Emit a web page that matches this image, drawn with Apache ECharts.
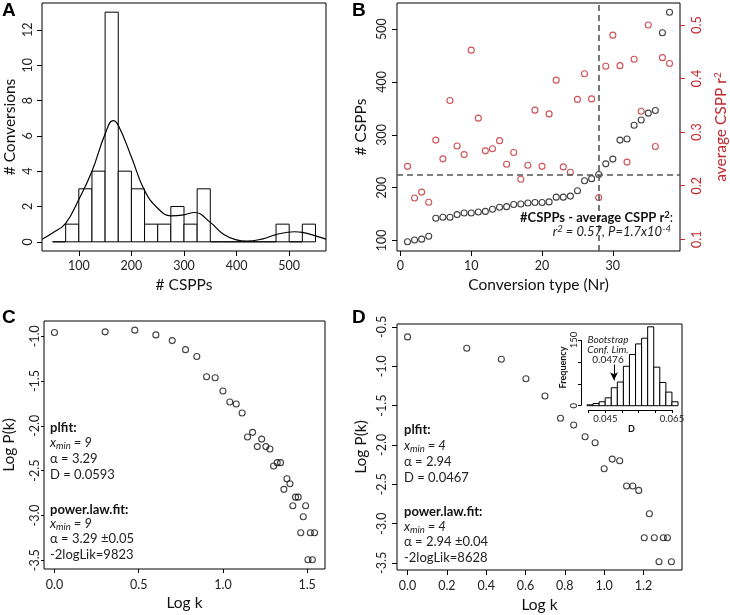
<!DOCTYPE html>
<html><head><meta charset="utf-8">
<script src="https://cdn.jsdelivr.net/npm/echarts@6/dist/echarts.min.js"></script>
<style>html,body{margin:0;padding:0;background:#fff}#c{width:730px;height:615px}</style>
</head><body><div id="c"></div>
<script>
const FONT = 'Lato, "Open Sans", sans-serif';
const RED = '#c1272d';

// ---------- Panel A: histogram of # CSPPs ----------
const histEdges = [50,75,100,125,150,175,200,225,250,275,300,325,350,375,400,425,450,475,500,525,550];
const histCounts = [0,1,3,4,13,4,3,1,1,2,1,3,0,0,0,0,0,1,0,1];
const densX = [30,50,75,100,125,150,165,175,200,225,250,275,300,320,350,375,400,419,450,475,510,525,550,570];
const densY = [0.15,0.5,1.05,2.4,4.0,6.1,6.86,6.6,4.8,2.9,1.9,1.47,1.53,1.66,1.1,0.43,0.11,0.04,0.17,0.41,0.57,0.53,0.34,0.15];
const aXTicks = [100,200,300,400,500];
const aYTicks = [0,2,4,6,8,10,12];

// ---------- Panel B: # CSPPs and average r2 per conversion type ----------
const convNr = [1,2,3,4,5,6,7,8,9,10,11,12,13,14,15,16,17,18,19,20,21,22,23,24,25,26,27,28,29,30,31,32,33,34,35,36,37,38];
const csppCount = [97.5,101,102.5,108,142,144,144,149,152,152,154,155,159,163,164,168,169,171,172,172,173,182,182,184,194,213,217,225,245,254,290,292,318,328,341,346,493,532];
const avgR2 = [0.236,0.177,0.188,0.169,0.285,0.250,0.359,0.274,0.258,0.453,0.326,0.265,0.269,0.284,0.240,0.262,0.212,0.238,0.341,0.236,0.334,0.397,0.235,0.225,0.361,0.409,0.362,0.178,0.423,0.481,0.424,0.244,0.436,0.339,0.500,0.273,0.439,0.428];
const bXTicks = [0,10,20,30];
const bYTicks = [100,200,300,400,500];
const bY2Ticks = [0.1,0.2,0.3,0.4,0.5];
const cutNr = 28, cutCspp = 225;

// ---------- Panel C: degree distribution ----------
const cLogK = [0,0.301,0.477,0.602,0.699,0.778,0.845,0.903,0.954,1.000,1.041,1.079,1.114,1.146,1.176,1.204,1.230,1.255,1.279,1.301,1.322,1.342,1.362,1.380,1.398,1.415,1.431,1.447,1.462,1.477,1.491,1.505,1.519,1.531,1.544];
const cLogP = [-0.958,-0.951,-0.932,-0.985,-1.049,-1.150,-1.226,-1.452,-1.463,-1.611,-1.734,-1.756,-1.857,-2.125,-2.073,-2.232,-2.148,-2.232,-2.259,-2.449,-2.411,-2.411,-2.709,-2.590,-2.646,-2.892,-2.796,-2.796,-3.193,-3.015,-2.892,-3.495,-3.193,-3.495,-3.193];
const cXTicks = [0,0.5,1.0,1.5];
const cYTicks = [-1.0,-1.5,-2.0,-2.5,-3.0,-3.5];

// ---------- Panel D: degree distribution ----------
const dLogK = [0,0.301,0.477,0.602,0.699,0.778,0.845,0.903,0.954,1.000,1.041,1.079,1.114,1.146,1.176,1.204,1.230,1.255,1.279,1.301,1.322,1.342];
const dLogP = [-0.627,-0.771,-0.911,-1.158,-1.378,-1.662,-1.747,-1.896,-1.972,-2.303,-2.180,-2.201,-2.523,-2.523,-2.578,-3.180,-2.875,-3.180,-3.486,-3.180,-3.180,-3.486];
const dXTicks = [0,0.2,0.4,0.6,0.8,1.0,1.2];
const dYTicks = [-0.5,-1.0,-1.5,-2.0,-2.5,-3.0,-3.5];

// ---------- Inset: bootstrap D histogram ----------
const insetEdges = [0.0395,0.04132,0.04314,0.04496,0.04678,0.0486,0.05042,0.05224,0.05406,0.05588,0.0577,0.05952,0.06134,0.06316,0.06498,0.0668];
const insetCounts = [2,5,9,18,41,54,90,117,141,154,180,88,53,31,9];
const insetXTicks = [0.040,0.045,0.050,0.055,0.060,0.065];
const insetXLabels = [0.045,0.065];
const insetYTicks = [0,50,100,150];
const insetYLabels = [0,150];
const confLim = 0.0476;

function mkAxis(o) {
  const ax = {
    type: 'value', gridIndex: o.grid, min: o.min, max: o.max,
    axisLine: {show: false, onZero: false}, splitLine: {show: false},
    axisTick: {show: true, length: o.tickLen || 5, customValues: o.ticks, lineStyle: {color: o.color || '#000', width: 1}},
    axisLabel: {customValues: o.labels || o.ticks, margin: o.margin, fontSize: o.fs || 12.5, fontFamily: FONT, color: o.color || '#222', rotate: o.rotate || 0},
    name: o.name || '', nameLocation: 'middle', nameGap: o.nameGap || 20,
    nameTextStyle: {fontSize: o.nfs || 15.5, fontFamily: FONT, color: o.ncolor || '#111', fontWeight: o.nfw || 'normal'}
  };
  if (o.fmt) ax.axisLabel.formatter = o.fmt;
  if (o.nameRotate !== undefined) ax.nameRotate = o.nameRotate;
  if (o.position) ax.position = o.position;
  if (o.rich) ax.nameTextStyle.rich = o.rich;
  return ax;
}
const f1 = v => v.toFixed(1);
const f3 = v => v.toFixed(3);

function histItem(edges, counts) {
  return counts.map((c, i) => [edges[i], edges[i + 1], c]);
}
function rectRender(params, api) {
  const p0 = api.coord([api.value(0), api.value(2)]);
  const p1 = api.coord([api.value(1), 0]);
  return {type: 'rect', shape: {x: p0[0], y: p0[1], width: p1[0] - p0[0], height: Math.max(p1[1] - p0[1], 0.01)},
          style: {fill: '#fff', stroke: '#000', lineWidth: 1}};
}
const openCircle = (col) => ({color: 'rgba(0,0,0,0)', borderColor: col, borderWidth: 1.1});

const gridBase = {show: true, borderColor: '#000', borderWidth: 1, backgroundColor: 'transparent', containLabel: false};

function txt(x, y, text, opt) {
  return {type: 'text', x: x, y: y, silent: true, z: 100,
    style: Object.assign({text: text, fontFamily: FONT, fontSize: 13, fill: '#222', align: 'left', verticalAlign: 'middle'}, opt || {})};
}
const richSub = {
  n: {fontSize: 13, fontStyle: 'italic', fontFamily: FONT, lineHeight: 16, verticalAlign: 'middle'},
  s: {fontSize: 9.5, fontStyle: 'italic', fontFamily: FONT, lineHeight: 8, verticalAlign: 'bottom'}
};
function annot(x, y0, xmin, alpha, D, alphaPM, loglik) {
  return [
    txt(x, y0, 'plfit:', {fontWeight: 'bold', fill: '#111'}),
    txt(x, y0 + 15.5, '{n|x}{s|min}{n| = ' + xmin + '}', {rich: richSub}),
    txt(x, y0 + 31.5, 'α = ' + alpha),
    txt(x, y0 + 47.5, 'D = ' + D),
    txt(x, y0 + 82, 'power.law.fit:', {fontWeight: 'bold', fill: '#111'}),
    txt(x, y0 + 96.5, '{n|x}{s|min}{n| = ' + xmin + '}', {rich: richSub}),
    txt(x, y0 + 111.5, 'α = ' + alphaPM),
    txt(x, y0 + 127.5, '-2logLik=' + loglik)
  ];
}

const option = {
  animation: false,
  backgroundColor: '#fff',
  grid: [
    Object.assign({left: 42, top: 3, width: 284, height: 248}, gridBase),
    Object.assign({left: 397, top: 3, width: 284, height: 248}, gridBase),
    Object.assign({left: 43, top: 321, width: 282, height: 248}, gridBase),
    Object.assign({left: 397, top: 324, width: 285, height: 246}, gridBase),
    {left: 581, top: 325, width: 101, height: 85, show: false}
  ],
  xAxis: [
    mkAxis({grid: 0, min: 30, max: 570, ticks: aXTicks, margin: 8, name: '# CSPPs', nameGap: 26}),
    mkAxis({grid: 1, min: -0.48, max: 39.48, ticks: bXTicks, margin: 8, name: 'Conversion type (Nr)', nameGap: 26}),
    mkAxis({grid: 2, min: -0.062, max: 1.606, ticks: cXTicks, margin: 9, fmt: f1, name: 'Log k', nameGap: 26, tickLen: 4}),
    mkAxis({grid: 3, min: -0.0537, max: 1.396, ticks: dXTicks, margin: 9, fmt: f1, name: 'Log k', nameGap: 27}),
    mkAxis({grid: 4, min: 0.0377, max: 0.068, ticks: insetXTicks, labels: insetXLabels, margin: 4, fmt: f3, fs: 9.5, tickLen: 3,
            name: 'D', nameGap: 15, nfs: 9, nfw: 'bold'})
  ],
  yAxis: [
    mkAxis({grid: 0, min: -0.52, max: 13.52, ticks: aYTicks, margin: 8, rotate: 90, name: '# Conversions', nameGap: 24, nameRotate: 90}),
    mkAxis({grid: 1, min: 80.1, max: 549.4, ticks: bYTicks, margin: 9, rotate: 90, name: '# CSPPs', nameGap: 28, nameRotate: 90}),
    mkAxis({grid: 1, min: 0.078, max: 0.541, ticks: bY2Ticks, margin: 10, rotate: 90, fmt: f1, color: RED, position: 'right',
            name: 'average CSPP r{sup|2}', nameGap: 33, nameRotate: 90, ncolor: RED,
            rich: {sup: {fontSize: 10, fontFamily: FONT, color: RED, lineHeight: 8, verticalAlign: 'top'}}}),
    mkAxis({grid: 2, min: -3.598, max: -0.83, ticks: cYTicks, margin: 3, rotate: 90, fmt: f1, name: 'Log P(k)', nameGap: 27, nameRotate: 90, tickLen: 3}),
    mkAxis({grid: 3, min: -3.59, max: -0.463, ticks: dYTicks, margin: 9, rotate: 90, fmt: f1, name: 'Log P(k)', nameGap: 28, nameRotate: 90}),
    mkAxis({grid: 4, min: -9.8, max: 184.2, ticks: insetYTicks, labels: insetYLabels, margin: 2, rotate: 90, fs: 9.5, tickLen: 3,
            name: 'Frequency', nameGap: 13, nameRotate: 90, nfs: 9, nfw: 'bold'})
  ],
  series: [
    {type: 'custom', xAxisIndex: 0, yAxisIndex: 0, data: histItem(histEdges, histCounts), encode: {x: [0, 1], y: 2},
     renderItem: rectRender, z: 2, silent: true},
    {type: 'line', xAxisIndex: 0, yAxisIndex: 0, data: densX.map((x, i) => [x, densY[i]]), smooth: 0.45,
     showSymbol: false, symbol: 'none', lineStyle: {color: '#000', width: 1.2}, z: 3, silent: true},

    {type: 'scatter', xAxisIndex: 1, yAxisIndex: 1, data: convNr.map((n, i) => [n, csppCount[i]]),
     symbol: 'circle', symbolSize: 6, itemStyle: openCircle('#111'), silent: true,
     markLine: {silent: true, symbol: ['none', 'none'], label: {show: false},
       lineStyle: {type: [6, 4], color: '#555', width: 1.6},
       data: [{xAxis: cutNr}, {yAxis: cutCspp}]}},
    {type: 'scatter', xAxisIndex: 1, yAxisIndex: 2, data: convNr.map((n, i) => [n, avgR2[i]]),
     symbol: 'circle', symbolSize: 6, itemStyle: openCircle(RED), silent: true},

    {type: 'scatter', xAxisIndex: 2, yAxisIndex: 3, data: cLogK.map((k, i) => [k, cLogP[i]]),
     symbol: 'circle', symbolSize: 6, itemStyle: openCircle('#111'), silent: true},

    {type: 'scatter', xAxisIndex: 3, yAxisIndex: 4, data: dLogK.map((k, i) => [k, dLogP[i]]),
     symbol: 'circle', symbolSize: 6, itemStyle: openCircle('#111'), silent: true},

    {type: 'custom', xAxisIndex: 4, yAxisIndex: 5, data: histItem(insetEdges, insetCounts), encode: {x: [0, 1], y: 2},
     renderItem: rectRender, z: 5, silent: true,
     markLine: {silent: true, symbol: ['none', 'none'], label: {show: false}, lineStyle: {type: 'solid', color: '#000', width: 1},
       data: [
         [{coord: [insetXTicks[0], -9.8]}, {coord: [insetXTicks[insetXTicks.length - 1], -9.8]}],
         [{coord: [0.0377, insetYTicks[0]]}, {coord: [0.0377, insetYTicks[insetYTicks.length - 1]]}]
       ]}},
    {type: 'line', xAxisIndex: 4, yAxisIndex: 5, data: [], z: 6, silent: true,
     markLine: {silent: true, symbol: ['none', 'arrow'], symbolSize: [6, 8], label: {show: false},
       lineStyle: {type: 'solid', color: '#000', width: 1},
       data: [[{coord: [confLim, 94]}, {coord: [confLim, 58]}]]}}
  ],
  graphic: [
    txt(2, 11, 'A', {fontFamily: 'Liberation Sans, Arial', fontWeight: 'bold', fontSize: 19, fill: '#000'}),
    txt(352, 11, 'B', {fontFamily: 'Liberation Sans, Arial', fontWeight: 'bold', fontSize: 19, fill: '#000'}),
    txt(2, 318, 'C', {fontFamily: 'Liberation Sans, Arial', fontWeight: 'bold', fontSize: 19, fill: '#000'}),
    txt(352, 318, 'D', {fontFamily: 'Liberation Sans, Arial', fontWeight: 'bold', fontSize: 19, fill: '#000'}),
    txt(673, 218, '{b|#CSPPs - average CSPP r}{bs|2}{n|:}', {align: 'right', rich: {
      b: {fontSize: 13, fontWeight: 'bold', fontFamily: FONT, fill: '#111', lineHeight: 16, verticalAlign: 'middle'},
      bs: {fontSize: 9.5, fontWeight: 'bold', fontFamily: FONT, fill: '#111', lineHeight: 8, verticalAlign: 'top'},
      n: {fontSize: 13, fontFamily: FONT, fill: '#111', lineHeight: 16, verticalAlign: 'middle'}}}),
    txt(671, 232, '{n|r}{s|2}{n| = 0.57, P=1.7x10}{s|-4}', {align: 'right', rich: {
      n: {fontSize: 13, fontStyle: 'italic', fontFamily: FONT, fill: '#222', lineHeight: 16, verticalAlign: 'middle'},
      s: {fontSize: 9.5, fontStyle: 'italic', fontFamily: FONT, fill: '#222', lineHeight: 8, verticalAlign: 'top'}}}),
    ...annot(50, 427.7, 9, '3.29', '0.0593', '3.29 ±0.05', '9823'),
    ...annot(404, 430, 4, '2.94', '0.0467', '2.94 ±0.04', '8628'),
    txt(608, 340, 'Bootstrap', {align: 'center', fontSize: 10, fontStyle: 'italic'}),
    txt(608, 350, 'Conf. Lim.', {align: 'center', fontSize: 10, fontStyle: 'italic'}),
    txt(608, 359.5, '0.0476', {align: 'center', fontSize: 10})
  ]
};
const chart = echarts.init(document.getElementById('c'), null, {renderer: 'canvas'});
chart.setOption(option);
</script></body></html>
